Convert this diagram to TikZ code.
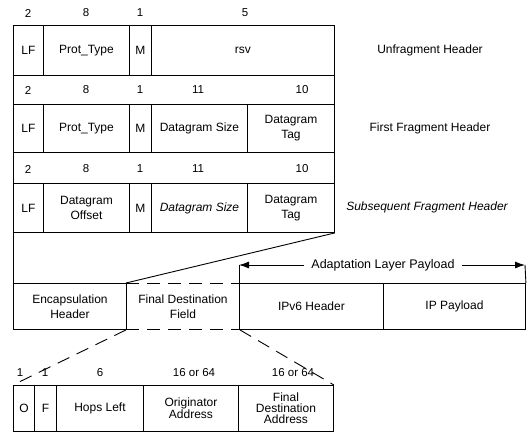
\documentclass[tikz,border=0pt]{standalone}
\usepackage{fontspec}
\setmainfont{Liberation Sans}
\usetikzlibrary{arrows.meta}
\begin{document}
\begin{tikzpicture}[x=1pt,y=-1pt,
  ln/.style={line width=0.9pt},
  cell/.style={draw, line width=0.9pt, anchor=north west, inner sep=0pt,
    align=center, font=\fontsize{12}{15}\selectfont},
  tight/.style={font=\fontsize{12}{11}\selectfont},
  num/.style={inner sep=0pt, font=\fontsize{11.5}{13}\selectfont},
  caption/.style={inner sep=0pt, font=\fontsize{12}{14}\selectfont},
  dsh/.style={line width=0.9pt, dash pattern=on 13pt off 8pt},
  tip/.style={-{Latex[length=10pt,width=7pt]}},
]
\useasboundingbox (0,0) rectangle (531,432);

% ---- Unfragmented header ----
\node[num] (u1) at (28,13) {2};
\node[num] (u2) at (86,13) {8};
\node[num] (u3) at (140,13) {1};
\node[num] (u4) at (245,13) {5};
\node[cell, minimum width=30pt, minimum height=50pt] (ulf) at (13,25) {LF};
\node[cell, minimum width=86pt, minimum height=50pt] (upt) at (43,25) {Prot\_Type};
\node[cell, minimum width=22pt, minimum height=50pt] (um) at (129,25) {M};
\node[cell, minimum width=183pt, minimum height=50pt] (ursv) at (151,25) {rsv};
\node[caption] (uhdr) at (430,50) {Unfragment Header};

% ---- First fragment header ----
\draw[ln] (13,104) -- (334,104);
\node[num] (f1) at (28,90) {2};
\node[num] (f2) at (86,90) {8};
\node[num] (f3) at (140,90) {1};
\node[num] (f4) at (198,90) {11};
\node[num] (f5) at (302,90) {10};
\node[cell, minimum width=30pt, minimum height=48pt] (flf) at (13,104) {LF};
\node[cell, minimum width=86pt, minimum height=48pt] (fpt) at (43,104) {Prot\_Type};
\node[cell, minimum width=22pt, minimum height=48pt] (fm) at (129,104) {M};
\node[cell, minimum width=96pt, minimum height=48pt] (fsz) at (151,104) {Datagram Size};
\node[cell, minimum width=87pt, minimum height=48pt] (ftag) at (247,104) {Datagram\\Tag};
\node[caption] (fhdr) at (430,128) {First Fragment Header};

% ---- Subsequent fragment header ----
\node[num] (s1) at (28,169) {2};
\node[num] (s2) at (86,169) {8};
\node[num] (s3) at (140,169) {1};
\node[num] (s4) at (198,169) {11};
\node[num] (s5) at (302,169) {10};
\node[cell, minimum width=30pt, minimum height=49pt] (slf) at (13,183) {LF};
\node[cell, minimum width=86pt, minimum height=49pt] (soff) at (43,183) {Datagram\\Offset};
\node[cell, minimum width=22pt, minimum height=49pt] (sm) at (129,183) {M};
\node[cell, minimum width=96pt, minimum height=49pt] (ssz) at (151,183) {\itshape Datagram Size};
\node[cell, minimum width=87pt, minimum height=49pt] (stag) at (247,183) {Datagram\\Tag};
\node[caption, font=\fontsize{12}{14}\selectfont\itshape] (shdr) at (427,207) {Subsequent Fragment Header};

% ---- Encapsulated frame ----
\node[cell, minimum width=113pt, minimum height=46pt] (enc) at (13,283) {Encapsulation\\Header};
\node[cell, draw=none, minimum width=113pt, minimum height=46pt] (fdf) at (126,283) {Final Destination\\Field};
\node[cell, minimum width=144pt, minimum height=46pt] (ipv6) at (239,283) {IPv6 Header};
\node[cell, minimum width=142pt, minimum height=46pt] (ipp) at (383,283) {IP Payload};
\draw[dsh] (fdf.north west) -- (fdf.north east);
\draw[dsh] (fdf.south west) -- (fdf.south east);

% outer outline of the header stack, funnelling into the encapsulation header
\draw[ln] (ulf.north west) -- (enc.north west);
\draw[ln] (ursv.north east) -- (stag.south east);
\draw[ln] (stag.south east) -- (fdf.north west);

% adaptation layer payload span
\coordinate (al) at (239,265);
\coordinate (ar) at (525,265);
\node[caption, inner xsep=7pt, font=\fontsize{12.5}{14}\selectfont] (alp) at (383,265) {Adaptation Layer Payload};
\draw[ln] (ipv6.north west) -- (al);
\draw[ln] (ipp.north east) -- (ar);
\draw[ln, tip] (alp.west) -- (al);
\draw[ln, tip] (alp.east) -- (ar);

% ---- Final destination field detail ----
\node[num] (d1) at (20,373) {1};
\node[num] (d2) at (45,373) {1};
\node[num] (d3) at (100,373) {6};
\node[num] (d4) at (194,373) {16 or 64};
\node[num] (d5) at (293,373) {16 or 64};
\node[cell, minimum width=21pt, minimum height=46pt] (fo) at (13,385) {O};
\node[cell, minimum width=22pt, minimum height=46pt] (ff) at (34,385) {F};
\node[cell, minimum width=87pt, minimum height=46pt] (fhops) at (56,385) {Hops Left};
\node[cell, tight, minimum width=95pt, minimum height=46pt] (forig) at (143,385) {Originator\\Address};
\node[cell, tight, minimum width=95pt, minimum height=46pt] (ffda) at (238,385) {Final\\Destination\\Address};
\draw[dsh] (fdf.south west) -- (fo.north west);
\draw[dsh] (fdf.south east) -- (ffda.north east);
\end{tikzpicture}
\end{document}
